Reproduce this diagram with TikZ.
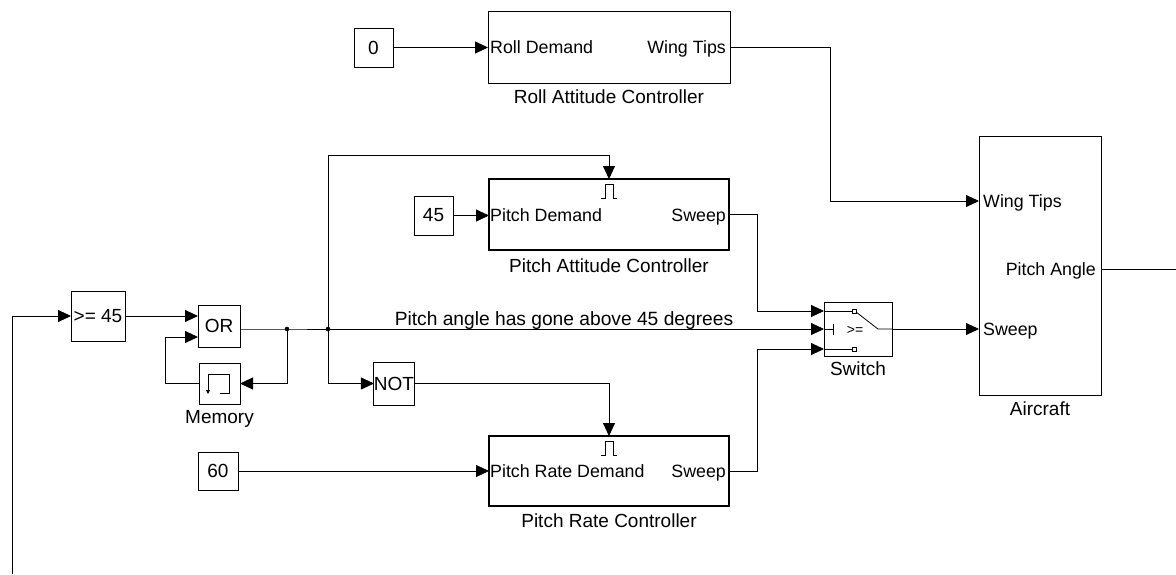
\documentclass[tikz,border=0pt]{standalone}
\usepackage{fontspec}
\setmainfont{Liberation Sans}
\usetikzlibrary{arrows.meta,calc}
\begin{document}
\begin{tikzpicture}[x=1pt,y=-1pt,
  font=\fontsize{19}{22}\selectfont,
  blk/.style={draw=black,line width=1pt,fill=white,inner sep=0pt,outer sep=0pt},
  thk/.style={blk,line width=2.8pt},
  wire/.style={line width=0.9pt},
  arr/.style={wire,-{Triangle[length=13pt,width=12pt]}},
  lbl/.style={anchor=base,inner sep=0pt},
  portfont/.style={font=\fontsize{17.8}{20}\selectfont},
  lportl/.style={portfont,anchor=base west,inner sep=0pt},
  lportr/.style={portfont,anchor=base east,inner sep=0pt},
  dot/.style={circle,fill=black,inner sep=0pt,minimum size=4.6pt}
]
\useasboundingbox (0,0) rectangle (1176,574);

% ---- blocks ----
\node[blk,minimum width=39,minimum height=39] (c0) at (373.5,47.5) {0};
\node[blk,minimum width=242,minimum height=72] (roll) at (609,47) {};
\node[blk,minimum width=39,minimum height=39] (c45) at (433.5,215.5) {45};
\node[thk,minimum width=240,minimum height=71] (pac) at (609,214.5) {};
\node[blk,minimum width=40,minimum height=38] (c60) at (218,471) {60};
\node[thk,minimum width=240,minimum height=70] (prc) at (609,471) {};
\node[blk,minimum width=54,minimum height=50] (ge) at (98,316) {>= 45};
\node[blk,minimum width=42,minimum height=42] (or) at (219,326) {OR};
\node[blk,minimum width=41,minimum height=41] (mem) at (219.5,383.5) {};
\node[blk,minimum width=40,minimum height=43] (not) at (394,383.5) {NOT};
\node[blk,minimum width=68,minimum height=54] (sw) at (858,329) {};
\node[blk,minimum width=122,minimum height=259] (air) at (1040,265.75) {};

% ---- port labels ----
\node[lportl] (rollin) at (490,53.5) {Roll Demand};
\node[lportr] (rollout) at (726,53.5) {Wing Tips};
\node[lportl] (pacin) at (490,221.5) {Pitch Demand};
\node[lportr] (pacout) at (726,221.5) {Sweep};
\node[lportl] (prcin) at (490,477.5) {Pitch Rate Demand};
\node[lportr] (prcout) at (726,477.5) {Sweep};
\node[lportl] (airwtl) at (983,207.5) {Wing Tips};
\node[lportr] (airpal) at (1096,275.5) {Pitch Angle};
\node[lportl] (airswl) at (983,335.5) {Sweep};
\node[lbl,font=\fontsize{14}{16}\selectfont] (swge) at (855,334) {>=};

% ---- block names ----
\node[lbl] (rolln) at (609,103) {Roll Attitude Controller};
\node[lbl] (pacn) at (609,272.5) {Pitch Attitude Controller};
\node[lbl] (prcn) at (609,527) {Pitch Rate Controller};
\node[lbl] (memn) at (219.5,423) {Memory};
\node[lbl] (swn) at (858,375) {Switch};
\node[lbl] (airn) at (1040,415) {Aircraft};

% ---- icons ----
\draw[wire] (601,198) -- (605,198) -- (605,184) -- (613,184) -- (613,198) -- (617,198);
\draw[wire] (601,455) -- (605,455) -- (605,441) -- (613,441) -- (613,455) -- (617,455);
\draw[wire] (208,374) -- (229,374) -- (229,393) -- (220,393);
\draw[line width=0.8pt,-{Triangle[length=4pt,width=4pt]}] (208,374) -- (208,394);

% ---- ports ----
\coordinate (swin1) at (824,311);
\coordinate (swin2) at (824,329);
\coordinate (swin3) at (824,349);
\coordinate (airWT) at (979,201);
\coordinate (airSW) at (979,329);
\coordinate (airPA) at (1101,269);
\coordinate (orin1) at (198,316);
\coordinate (orin2) at (198,337);
\coordinate (orout) at (240,329);
\coordinate (j1) at (287,329);
\coordinate (j2) at (328,329);
\coordinate (src) at (12,574);
\coordinate (paout) at (1176,269);

% ---- switch interior ----
\draw[line width=0.8pt] (swin1) -- (852,311);
\draw[line width=0.8pt] (852,309) rectangle (856,313);
\draw[line width=0.8pt] (swin3) -- (852,349);
\draw[line width=0.8pt] (852,347) rectangle (856,351);
\draw[line width=0.8pt] (swin2) -- (833,329);
\draw[line width=0.8pt] (833,324) -- (833,335);
\draw[line width=0.8pt] (856,312) -- (878,329) -- (sw.east);

% ---- connectors ----
\draw[arr] (src) |- (ge.west);
\draw[arr] (ge.east) -- (orin1);
\draw[wire] (orout) -- (j1) -- (j2);
\draw[arr] (j2) -- (swin2);
\draw[arr] (j1) |- (mem.east);
\draw[arr] (mem.west) -- ++(-34,0) |- (orin2);
\draw[arr] (j2) |- (not.west);
\draw[arr] (j2) -- ++(0,-174) -| (pac.north);
\draw[arr] (not.east) -| (prc.north);
\draw[arr] (c0.east) -- (c0.east -| roll.west);
\draw[arr] (roll.east) -| ([xshift=-149pt]airWT) -- (airWT);
\draw[arr] (c45.east) -- (c45.east -| pac.west);
\draw[arr] (c60.east) -- (c60.east -| prc.west);
\draw[arr] (pac.east) -| ([xshift=-67pt]swin1) -- (swin1);
\draw[arr] (prc.east) -| ([xshift=-67pt]swin3) -- (swin3);
\draw[arr] (sw.east) -- (airSW);
\draw[wire] (airPA) -- (paout);
\node[dot] (d1) at (j1) {};
\node[dot] (d2) at (j2) {};

\node[lbl,font=\fontsize{19.2}{22}\selectfont] (msg) at (564,325) {Pitch angle has gone above 45 degrees};
\end{tikzpicture}
\end{document}
